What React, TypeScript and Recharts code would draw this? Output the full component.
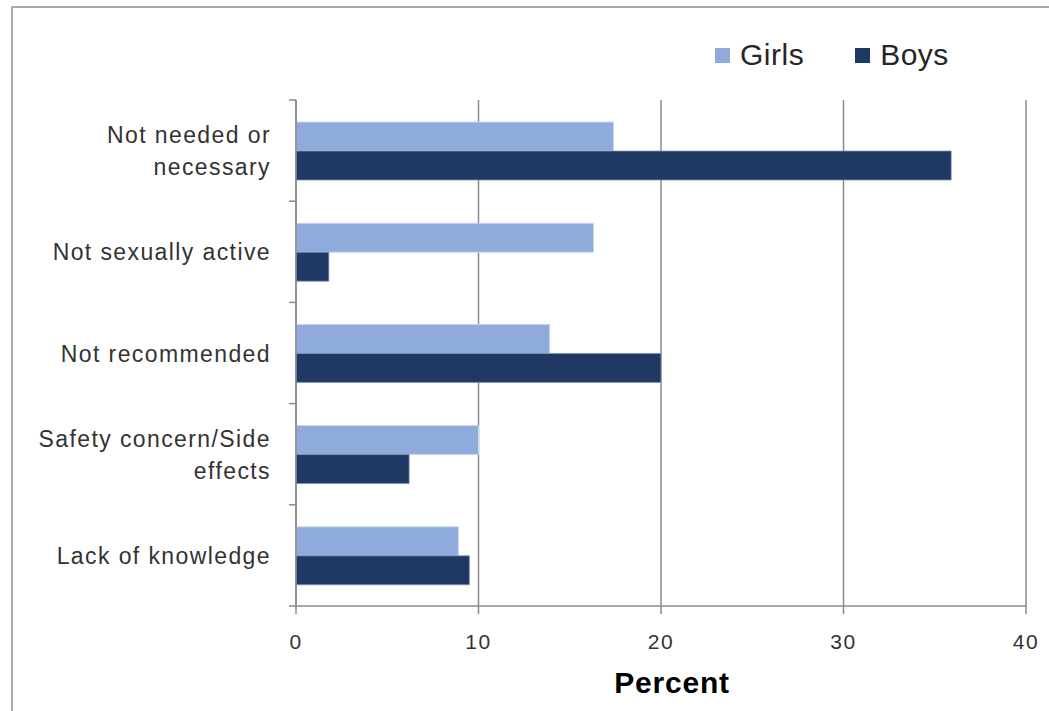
import React from "react";
import { BarChart, Bar, XAxis, YAxis, CartesianGrid, Legend } from "recharts";

const categories = [
  "Not needed or\nnecessary",
  "Not sexually active",
  "Not recommended",
  "Safety concern/Side\neffects",
  "Lack of knowledge",
];
const girls = [17.4, 16.3, 13.9, 10.0, 8.9];
const boys = [35.9, 1.8, 20.0, 6.2, 9.5];
const xTicks = [0, 10, 20, 30, 40];
const seriesNames = ["Girls", "Boys"];

const data = categories.map((c, i) => ({ name: c, Girls: girls[i], Boys: boys[i] }));

const FONT = "'Liberation Sans', Arial, sans-serif";
const GIRL_COLOR = "#8eabdc";
const BOY_COLOR = "#1f3864";
const AXIS_COLOR = "#8a8a8a";
const CAT_TICK_MARGIN = 25;
const BOUNDARY_TICK = 7;

const CategoryTick = (props: any) => {
  const { x, y, payload, index } = props;
  const lines: string[] = String(payload.value).split("\n");
  const lh = 32;
  const start = y - ((lines.length - 1) * lh) / 2 + 8.5;
  const half = typeof payload.offset === "number" && payload.offset > 0 ? payload.offset : 0;
  const axisX = x + CAT_TICK_MARGIN;
  return (
    <g>
      {half > 0 && (
        <>
          <line x1={axisX - BOUNDARY_TICK} x2={axisX} y1={y - half} y2={y - half} stroke={AXIS_COLOR} strokeWidth={1.5} />
          {index === categories.length - 1 && (
            <line x1={axisX - BOUNDARY_TICK} x2={axisX} y1={y + half} y2={y + half} stroke={AXIS_COLOR} strokeWidth={1.5} />
          )}
        </>
      )}
      <text
        x={x}
        y={start}
        textAnchor="end"
        fill="#333333"
        fontFamily={FONT}
        fontSize={23}
        letterSpacing={1.4}
      >
        {lines.map((l, i) => (
          <tspan key={i} x={x} y={start + i * lh}>
            {l}
          </tspan>
        ))}
      </text>
    </g>
  );
};

const NumberTick = (props: any) => {
  const { x, y, payload } = props;
  return (
    <text
      x={x}
      y={y + 17}
      textAnchor="middle"
      fill="#333333"
      fontFamily={FONT}
      fontSize={21}
      letterSpacing={1.5}
    >
      {payload.value}
    </text>
  );
};

const LegendContent = () => {
  const colors = [GIRL_COLOR, BOY_COLOR];
  return (
    <div style={{ display: "flex", alignItems: "center", fontFamily: FONT }}>
      {seriesNames.map((n, i) => (
        <div
          key={n}
          style={{ display: "flex", alignItems: "center", marginRight: i === 0 ? 51 : 0 }}
        >
          <span
            style={{ display: "inline-block", width: 15, height: 15, background: colors[i], marginRight: 10 }}
          />
          <span style={{ fontSize: 30, color: "#262626", letterSpacing: 0.5, lineHeight: "34px" }}>{n}</span>
        </div>
      ))}
    </div>
  );
};

const PercentLabel = (props: any) => {
  const vb = props.viewBox || {};
  const cx = (vb.x || 0) + (vb.width || 0) / 2 + 11;
  return (
    <text
      x={cx}
      y={693}
      textAnchor="middle"
      fill="#000"
      fontFamily={FONT}
      fontWeight="bold"
      fontSize={30}
      letterSpacing={0.8}
    >
      Percent
    </text>
  );
};

export default function App() {
  return (
    <div
      style={{
        position: "fixed",
        left: 0,
        top: 0,
        width: 1049,
        height: 711,
        overflow: "hidden",
        background: "#fff",
      }}
    >
      <div
        style={{
          position: "absolute",
          left: 11,
          top: 6,
          width: 1200,
          height: 900,
          border: "2px solid #ababab",
          boxSizing: "border-box",
        }}
      />
      <div style={{ position: "absolute", left: 0, top: 0 }}>
        <BarChart
          width={1049}
          height={711}
          data={data}
          layout="vertical"
          margin={{ top: 100, right: 23, bottom: 45, left: 10 }}
          barGap={0}
          barSize={29}
        >
          <CartesianGrid horizontal={false} vertical={true} stroke={AXIS_COLOR} strokeWidth={1.5} />
          <XAxis
            type="number"
            domain={[0, 40]}
            ticks={xTicks}
            interval={0}
            height={60}
            axisLine={{ stroke: AXIS_COLOR, strokeWidth: 1.5 }}
            tickLine={{ stroke: AXIS_COLOR, strokeWidth: 1.5 }}
            tickSize={8}
            tickMargin={18}
            tick={<NumberTick />}
            label={<PercentLabel />}
          />
          <YAxis
            type="category"
            dataKey="name"
            orientation="left"
            width={286}
            interval={0}
            axisLine={{ stroke: AXIS_COLOR, strokeWidth: 1.5 }}
            tickLine={false}
            tickSize={0}
            tickMargin={CAT_TICK_MARGIN}
            tick={<CategoryTick />}
          />
          <Legend
            verticalAlign="middle"
            align="center"
            content={<LegendContent />}
            wrapperStyle={{ position: "absolute", left: 715, top: 38, width: 300 }}
          />
          <Bar dataKey="Girls" name="Girls" fill={GIRL_COLOR} stroke="#c9d7ef" strokeWidth={1} isAnimationActive={false} />
          <Bar dataKey="Boys" name="Boys" fill={BOY_COLOR} stroke="#8094b8" strokeWidth={0.8} isAnimationActive={false} />
        </BarChart>
      </div>
    </div>
  );
}
